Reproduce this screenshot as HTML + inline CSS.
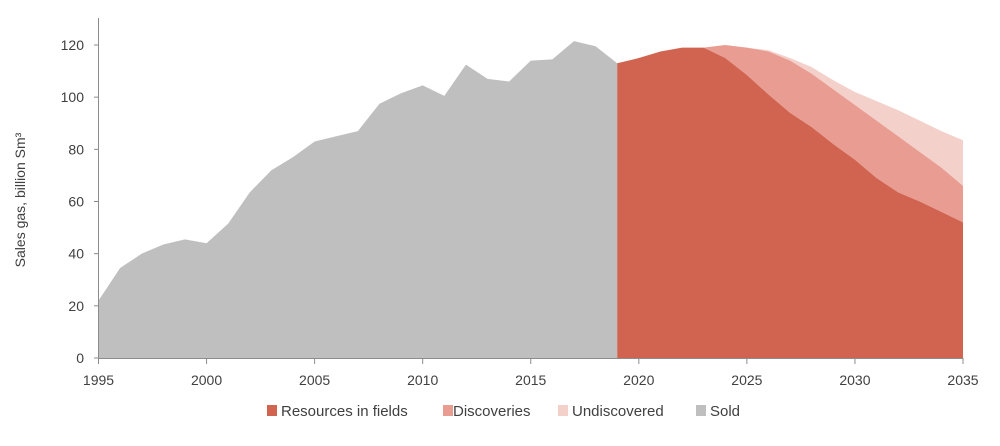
<!DOCTYPE html>
<html><head><meta charset="utf-8"><style>
body{margin:0;background:#fff;}
svg text{font-family:"Liberation Sans",sans-serif;fill:#404040;}
</style></head><body>
<svg id="chart" width="1000" height="441" xmlns="http://www.w3.org/2000/svg">
<g id="areas"></g>
<g id="axes"></g>
<text transform="translate(25,200) rotate(-90)" text-anchor="middle" font-size="14">Sales gas, billion Sm³</text>
<g font-size="15">
<g><rect x="267" y="405" width="10" height="11" fill="#d16450"/><text x="281" y="416">Resources in fields</text></g>
<g><rect x="443" y="405" width="10" height="11" fill="#e99c91"/><text x="453" y="416">Discoveries</text></g>
<g><rect x="558" y="405" width="10" height="11" fill="#f4d0ca"/><text x="572" y="416">Undiscovered</text></g>
<g><rect x="696" y="405" width="10" height="11" fill="#bfbfbf"/><text x="710" y="416">Sold</text></g>
</g>
</svg>
<script>
const soldYears=[1995,1996,1997,1998,1999,2000,2001,2002,2003,2004,2005,2006,2007,2008,2009,2010,2011,2012,2013,2014,2015,2016,2017,2018,2019];
const soldValues=[22,34.5,40,43.5,45.5,44,51.5,63.5,72,77,83,85,87,97.5,101.5,104.5,100.5,112.5,107,106,114,114.5,121.5,119.5,113];
const fcYears=[2019,2020,2021,2022,2023,2024,2025,2026,2027,2028,2029,2030,2031,2032,2033,2034,2035];
const fieldValues=[113,115,117.5,119,119,115,108.5,101,94,88.5,82,76,69,63.5,60,56,52];
const discoveryValues=[0,0,0,0,0,5,10.5,16.5,20,20.5,21,21,22,21.5,19,17,14];
const undiscoveredValues=[0,0,0,0,0,0,0,0.5,1,2.5,3.5,5,7.5,10,12,14,17.5];
const xTicks=[1995,2000,2005,2010,2015,2020,2025,2030,2035];
const yTicks=[0,20,40,60,80,100,120];
const NS="http://www.w3.org/2000/svg";
const X=y=>98.5+(y-1995)*(963-98.5)/40;
const Y=v=>358-v*(358-45)/120;
const areas=document.getElementById('areas'),axes=document.getElementById('axes');
function area(xs,top,bot,fill,name){
  let d='M'+X(xs[0])+','+Y(top[0]);
  for(let i=1;i<xs.length;i++)d+='L'+X(xs[i])+','+Y(top[i]);
  for(let i=xs.length-1;i>=0;i--)d+='L'+X(xs[i])+','+Y(bot[i]);
  const p=document.createElementNS(NS,'path');p.setAttribute('d',d+'Z');p.setAttribute('fill',fill);
  
  
  areas.appendChild(p);
}
area(soldYears,soldValues,soldValues.map(()=>0),'#bfbfbf','sold-area');
const c1=fieldValues.map((v,i)=>v+discoveryValues[i]);
const c2=c1.map((v,i)=>v+undiscoveredValues[i]);
area(fcYears,c2,c1,'#f4d0ca','undiscovered-area');
area(fcYears,c1,fieldValues,'#e99c91','discoveries-area');
area(fcYears,fieldValues,fieldValues.map(()=>0),'#d16450','resources-area');
function line(x1,y1,x2,y2){const l=document.createElementNS(NS,'line');l.setAttribute('x1',x1);l.setAttribute('y1',y1);l.setAttribute('x2',x2);l.setAttribute('y2',y2);l.setAttribute('stroke','#8c8c8c');l.setAttribute('stroke-width','1');


axes.appendChild(l);}
line(98.5,18,98.5,358.5);line(98.5,358.5,963.5,358.5);
yTicks.forEach(v=>{line(94,Y(v),98.5,Y(v));const t=document.createElementNS(NS,'text');t.setAttribute('x',84);t.setAttribute('y',Y(v)+5);t.setAttribute('text-anchor','end');t.setAttribute('font-size','14');t.textContent=v;


axes.appendChild(t);});
xTicks.forEach(v=>{line(X(v),358.5,X(v),364);const t=document.createElementNS(NS,'text');t.setAttribute('x',X(v));t.setAttribute('y',385);t.setAttribute('text-anchor','middle');t.setAttribute('font-size','14');t.textContent=v;


axes.appendChild(t);});
</script>
</body></html>
